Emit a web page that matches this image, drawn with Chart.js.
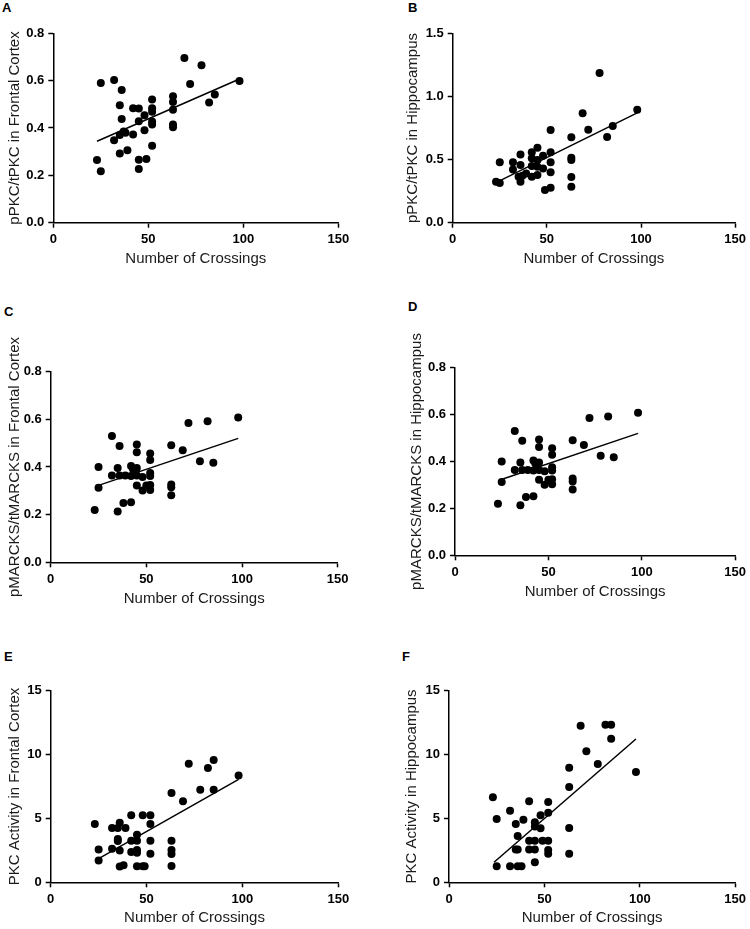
<!DOCTYPE html>
<html>
<head>
<meta charset="utf-8">
<script src="https://cdn.jsdelivr.net/npm/chart.js@4.4.0/dist/chart.umd.min.js"></script>
<style>
  html, body { margin: 0; padding: 0; background: #fff; }
  body { width: 750px; height: 929px; position: relative; overflow: hidden; }
  canvas { position: absolute; }
  .tag { position: absolute; font: bold 13px Arial, "Liberation Sans", sans-serif; line-height: 13px; color: #000; }
</style>
</head>
<body>
<div class="tag" style="left:2px;top:1px">A</div>
<div class="tag" style="left:408px;top:1px">B</div>
<div class="tag" style="left:4px;top:305px">C</div>
<div class="tag" style="left:408px;top:300px">D</div>
<div class="tag" style="left:4px;top:650px">E</div>
<div class="tag" style="left:402px;top:650px">F</div>

<canvas id="chartA"></canvas>
<canvas id="chartB"></canvas>
<canvas id="chartC"></canvas>
<canvas id="chartD"></canvas>
<canvas id="chartE"></canvas>
<canvas id="chartF"></canvas>

<script>
// A - pPKC/tPKC frontal cortex
const crossingsA = [23, 25, 25, 32, 32, 36, 35, 36, 35, 37, 38, 35, 39, 42, 45, 42, 45, 48, 48, 45, 45, 49, 52, 52, 52, 52, 52, 52, 63, 63, 63, 63, 63, 69, 72, 78, 82, 85, 98];
const pkcFrontal = [0.265, 0.217, 0.590, 0.603, 0.348, 0.561, 0.496, 0.438, 0.370, 0.385, 0.380, 0.292, 0.306, 0.483, 0.482, 0.373, 0.428, 0.454, 0.390, 0.266, 0.227, 0.269, 0.520, 0.483, 0.469, 0.427, 0.415, 0.325, 0.534, 0.510, 0.477, 0.415, 0.403, 0.696, 0.586, 0.665, 0.508, 0.542, 0.599];
const fitA = [[23, 0.344], [98, 0.607]];

// B - pPKC/tPKC hippocampus
const crossingsB = [23, 25, 25, 32, 32, 36, 36, 35, 36, 37, 39, 42, 42, 42, 42, 45, 45, 45, 45, 48, 48, 49, 52, 52, 52, 52, 52, 63, 63, 63, 63, 63, 69, 72, 78, 82, 85, 98];
const pkcHippo = [0.325, 0.314, 0.478, 0.478, 0.422, 0.541, 0.457, 0.364, 0.325, 0.372, 0.390, 0.557, 0.510, 0.449, 0.364, 0.594, 0.496, 0.444, 0.378, 0.531, 0.430, 0.259, 0.734, 0.557, 0.478, 0.399, 0.277, 0.676, 0.515, 0.496, 0.362, 0.285, 0.866, 0.737, 1.186, 0.679, 0.766, 0.895];
const fitB = [[23, 0.317], [98, 0.870]];

// C / D - pMARCKS/tMARCKS
const crossingsC = [23, 25, 25, 32, 32, 35, 35, 36, 36, 38, 39, 42, 42, 42, 43, 45, 45, 45, 45, 45, 48, 48, 50, 52, 52, 52, 52, 52, 52, 63, 63, 63, 63, 69, 72, 78, 82, 85, 98];
const marcksFrontal = [0.220, 0.313, 0.400, 0.530, 0.364, 0.213, 0.396, 0.364, 0.488, 0.249, 0.364, 0.404, 0.362, 0.252, 0.392, 0.494, 0.462, 0.396, 0.364, 0.322, 0.358, 0.301, 0.322, 0.457, 0.429, 0.375, 0.362, 0.324, 0.303, 0.491, 0.327, 0.315, 0.281, 0.470, 0.585, 0.424, 0.592, 0.418, 0.608];
const fitC = [[25, 0.323], [98, 0.520]];
const crossingsD = crossingsC;
const marcksHippo = [0.220, 0.313, 0.400, 0.530, 0.364, 0.213, 0.396, 0.364, 0.488, 0.249, 0.364, 0.404, 0.362, 0.252, 0.392, 0.494, 0.462, 0.396, 0.364, 0.322, 0.358, 0.301, 0.322, 0.457, 0.429, 0.375, 0.362, 0.324, 0.303, 0.491, 0.327, 0.315, 0.281, 0.470, 0.585, 0.424, 0.592, 0.418, 0.608];
const fitD = [[24, 0.321], [98, 0.520]];

// E - PKC activity frontal cortex
const crossingsE = [23, 25, 25, 32, 32, 35, 35, 35, 36, 36, 36, 38, 39, 42, 42, 42, 45, 45, 45, 45, 45, 48, 48, 49, 52, 52, 52, 52, 63, 63, 63, 63, 63, 69, 72, 78, 82, 85, 85, 98];
const activityFrontal = [4.57, 2.56, 1.70, 4.25, 2.63, 4.25, 3.39, 3.24, 4.67, 2.48, 1.23, 1.33, 4.25, 5.24, 3.26, 2.37, 3.73, 3.26, 2.53, 2.32, 1.25, 5.24, 1.25, 1.25, 5.24, 4.57, 3.26, 2.24, 6.99, 3.26, 2.53, 2.22, 1.28, 6.34, 9.29, 7.25, 8.95, 9.57, 7.25, 8.37];
const fitE = [[25, 1.85], [98, 8.06]];

// F - PKC activity hippocampus
const crossingsF = [23, 25, 25, 32, 32, 35, 35, 36, 36, 36, 38, 39, 42, 42, 42, 45, 45, 45, 45, 45, 48, 48, 49, 52, 52, 52, 52, 52, 63, 63, 63, 63, 69, 72, 78, 82, 85, 85, 98];
const activityHippo = [6.65, 4.96, 1.25, 5.61, 1.25, 4.57, 2.56, 3.63, 2.56, 1.25, 1.25, 4.90, 6.34, 3.26, 2.56, 4.70, 4.36, 3.26, 2.56, 1.57, 5.24, 4.23, 3.26, 6.29, 5.45, 3.26, 2.53, 2.24, 8.97, 7.46, 4.25, 2.24, 12.26, 10.25, 9.26, 12.34, 12.34, 11.24, 8.64];
const fitF = [[23.6, 1.57], [98, 11.22]];

const xTicks = [0, 50, 100, 150];

const FONT = 'Arial, "Liberation Sans", sans-serif';

function makePanel(id, opt) {
  const cv = document.getElementById(id);
  cv.width = opt.cw;
  cv.height = opt.ch;
  cv.style.left = opt.cx + 'px';
  cv.style.top = opt.cy + 'px';

  const pts = opt.xs.map((x, i) => ({ x: x, y: opt.ys[i] }));
  const line = opt.fit.map(p => ({ x: p[0], y: p[1] }));

  const b = opt.box;
  new Chart(cv, {
    type: 'scatter',
    data: {
      datasets: [
        {
          data: pts,
          backgroundColor: '#000',
          borderColor: '#000',
          pointRadius: 4,
          pointHoverRadius: 4,
          borderWidth: 0
        },
        {
          data: line,
          showLine: true,
          borderColor: '#000',
          borderWidth: 1.5,
          pointRadius: 0,
          fill: false
        }
      ]
    },
    options: {
      responsive: false,
      animation: false,
      devicePixelRatio: 1,
      layout: {
        padding: { left: 0, top: b.top - opt.cy, right: opt.cx + opt.cw - b.right, bottom: 0 }
      },
      plugins: { legend: { display: false }, tooltip: { enabled: false } },
      scales: {
        x: {
          type: 'linear',
          min: 0, max: 150,
          afterBuildTicks: s => { s.ticks = xTicks.map(v => ({ value: v })); },
          afterFit: s => { s.height = opt.cy + opt.ch - b.bottom; },
          grid: { drawOnChartArea: false, drawTicks: true, tickLength: 5, tickWidth: 1.5, tickColor: '#000' },
          border: { color: '#000', width: 1.5 },
          ticks: { color: '#000', padding: 4, font: { family: FONT, size: 13, weight: 'bold' } },
          title: {
            display: true, text: 'Number of Crossings', color: '#1a1a1a',
            font: { family: FONT, size: 15 },
            padding: { top: 0, bottom: opt.ch - (opt.xTitle - opt.cy) - 9 }
          }
        },
        y: {
          type: 'linear',
          min: 0, max: opt.ymax,
          afterBuildTicks: s => { s.ticks = opt.yTicks.map(v => ({ value: v })); },
          afterFit: s => { s.width = b.left - opt.cx; },
          grid: { drawOnChartArea: false, drawTicks: true, tickLength: 5, tickWidth: 1.5, tickColor: '#000' },
          border: { color: '#000', width: 1.5 },
          ticks: {
            color: '#000', padding: 4,
            font: { family: FONT, size: 13, weight: 'bold' },
            callback: v => opt.decimals ? Number(v).toFixed(1) : String(v)
          },
          title: {
            display: true, text: opt.yLabel, color: '#1a1a1a',
            font: { family: FONT, size: 15 },
            padding: { top: opt.yTitle - opt.cx - 9, bottom: 0 }
          }
        }
      }
    }
  });
}

makePanel('chartA', {
  cx: 0, cy: 0, cw: 375, ch: 310,
  box: { left: 53.3, right: 338.3, top: 33.3, bottom: 222.7 },
  xs: crossingsA, ys: pkcFrontal, fit: fitA,
  ymax: 0.8, yTicks: [0, 0.2, 0.4, 0.6, 0.8], decimals: true,
  yLabel: 'pPKC/tPKC in Frontal Cortex', yTitle: 15.3, xTitle: 258.7
});
makePanel('chartB', {
  cx: 375, cy: 0, cw: 375, ch: 310,
  box: { left: 452.7, right: 737.7, top: 33.3, bottom: 222.7 },
  xs: crossingsB, ys: pkcHippo, fit: fitB,
  ymax: 1.5, yTicks: [0, 0.5, 1.0, 1.5], decimals: true,
  yLabel: 'pPKC/tPKC in Hippocampus', yTitle: 413.3, xTitle: 258.7
});
makePanel('chartC', {
  cx: 0, cy: 310, cw: 375, ch: 310,
  box: { left: 50.7, right: 337.7, top: 371.7, bottom: 562.3 },
  xs: crossingsC, ys: marcksFrontal, fit: fitC,
  ymax: 0.8, yTicks: [0, 0.2, 0.4, 0.6, 0.8], decimals: true,
  yLabel: 'pMARCKS/tMARCKS in Frontal Cortex', yTitle: 15.3, xTitle: 599.3
});
makePanel('chartD', {
  cx: 375, cy: 310, cw: 375, ch: 310,
  box: { left: 455, right: 737.7, top: 367.7, bottom: 555.3 },
  xs: crossingsD, ys: marcksHippo, fit: fitD,
  ymax: 0.8, yTicks: [0, 0.2, 0.4, 0.6, 0.8], decimals: true,
  yLabel: 'pMARCKS/tMARCKS in Hippocampus', yTitle: 416.7, xTitle: 591.7
});
makePanel('chartE', {
  cx: 0, cy: 620, cw: 375, ch: 309,
  box: { left: 50.7, right: 338.3, top: 690.7, bottom: 882.3 },
  xs: crossingsE, ys: activityFrontal, fit: fitE,
  ymax: 15, yTicks: [0, 5, 10, 15], decimals: false,
  yLabel: 'PKC Activity in Frontal Cortex', yTitle: 15.3, xTitle: 918.3
});
makePanel('chartF', {
  cx: 375, cy: 620, cw: 375, ch: 309,
  box: { left: 449, right: 737.7, top: 690.7, bottom: 882.3 },
  xs: crossingsF, ys: activityHippo, fit: fitF,
  ymax: 15, yTicks: [0, 5, 10, 15], decimals: false,
  yLabel: 'PKC Activity in Hippocampus', yTitle: 412, xTitle: 918.3
});
</script>
</body>
</html>
